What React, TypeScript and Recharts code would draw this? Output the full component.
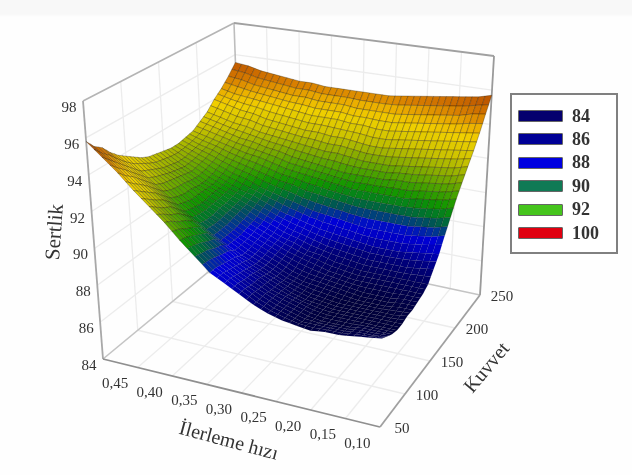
import { ScatterChart, Scatter, XAxis, YAxis } from "recharts";

const feedTicks = [0.45, 0.4, 0.35, 0.3, 0.25, 0.2, 0.15, 0.1, 0.05];
const feedLabels = ["0,45", "0,40", "0,35", "0,30", "0,25", "0,20", "0,15", "0,10"];
const forceTicks = [50, 100, 150, 200, 250];
const hardnessTicks = [84, 86, 88, 90, 92, 94, 96, 98];

const feedValues = [
  0.45, 0.43, 0.41, 0.39, 0.37, 0.35, 0.33, 0.31, 0.29, 0.27, 0.25, 0.23, 0.21, 0.19, 0.17, 0.15, 0.13, 0.11, 0.09,
  0.07, 0.05,
];
const forceValues = [50, 60, 70, 80, 90, 100, 110, 120, 130, 140, 150, 160, 170, 180, 190, 200, 210, 220, 230, 240, 250];

// hardness, one row per force value, one column per feed value
const hardness = [
  [95.8, 95.1, 94.4, 93.6, 92.9, 92.2, 91.4, 90.7, 90.0, 89.6, 89.2, 88.8, 88.5, 88.3, 88.2, 88.1, 88.2, 88.2, 88.3, 88.4, 88.5],
  [95.3, 94.7, 94.0, 93.3, 92.6, 92.0, 91.3, 90.6, 90.0, 89.6, 89.2, 88.8, 88.5, 88.3, 88.1, 88.1, 88.1, 88.1, 88.2, 88.2, 88.3],
  [95.0, 94.3, 93.7, 93.0, 92.3, 91.7, 91.1, 90.5, 89.9, 89.5, 89.1, 88.8, 88.5, 88.3, 88.1, 88.0, 88.0, 88.0, 88.1, 88.1, 88.1],
  [94.5, 93.9, 93.3, 92.7, 92.1, 91.5, 90.9, 90.3, 89.8, 89.4, 89.1, 88.7, 88.5, 88.3, 88.1, 88.0, 88.0, 88.0, 88.0, 88.0, 88.0],
  [94.1, 93.5, 92.9, 92.3, 91.7, 91.2, 90.7, 90.2, 89.7, 89.3, 89.0, 88.7, 88.4, 88.2, 88.1, 88.0, 88.0, 88.0, 88.0, 88.0, 88.0],
  [93.8, 93.1, 92.5, 91.9, 91.3, 90.8, 90.3, 89.9, 89.5, 89.2, 88.9, 88.6, 88.4, 88.2, 88.1, 88.0, 88.0, 88.0, 88.0, 88.0, 88.1],
  [93.5, 92.9, 92.3, 91.7, 91.2, 90.7, 90.3, 89.9, 89.5, 89.2, 88.9, 88.6, 88.4, 88.3, 88.2, 88.1, 88.0, 88.0, 88.0, 88.1, 88.1],
  [93.2, 92.7, 92.2, 91.6, 91.1, 90.7, 90.3, 89.9, 89.6, 89.3, 89.0, 88.7, 88.5, 88.4, 88.3, 88.2, 88.1, 88.1, 88.1, 88.2, 88.2],
  [93.0, 92.5, 92.1, 91.6, 91.1, 90.8, 90.4, 90.0, 89.7, 89.4, 89.1, 88.9, 88.7, 88.5, 88.4, 88.3, 88.3, 88.3, 88.3, 88.3, 88.3],
  [92.9, 92.4, 92.0, 91.5, 91.2, 90.8, 90.5, 90.1, 89.8, 89.5, 89.3, 89.0, 88.9, 88.7, 88.6, 88.5, 88.5, 88.5, 88.5, 88.5, 88.5],
  [92.8, 92.3, 91.9, 91.5, 91.2, 90.9, 90.6, 90.3, 90.0, 89.7, 89.5, 89.3, 89.1, 89.0, 88.9, 88.8, 88.8, 88.8, 88.8, 88.9, 89.0],
  [92.7, 92.3, 92.0, 91.6, 91.3, 91.0, 90.8, 90.5, 90.2, 90.0, 89.8, 89.6, 89.5, 89.4, 89.3, 89.2, 89.2, 89.2, 89.3, 89.4, 89.5],
  [92.7, 92.4, 92.1, 91.8, 91.5, 91.3, 91.0, 90.8, 90.6, 90.4, 90.2, 90.1, 90.0, 89.9, 89.8, 89.8, 89.8, 89.8, 89.9, 90.0, 90.2],
  [92.8, 92.5, 92.3, 92.0, 91.8, 91.6, 91.4, 91.2, 91.1, 90.9, 90.8, 90.7, 90.6, 90.5, 90.5, 90.5, 90.5, 90.5, 90.6, 90.7, 90.9],
  [92.9, 92.7, 92.5, 92.3, 92.1, 92.0, 91.8, 91.6, 91.5, 91.4, 91.3, 91.2, 91.1, 91.1, 91.1, 91.1, 91.1, 91.2, 91.3, 91.4, 91.6],
  [93.2, 93.0, 92.8, 92.6, 92.5, 92.3, 92.2, 92.0, 91.9, 91.8, 91.7, 91.6, 91.6, 91.6, 91.6, 91.7, 91.7, 91.8, 91.9, 92.0, 92.2],
  [93.5, 93.3, 93.1, 93.0, 92.8, 92.7, 92.6, 92.5, 92.4, 92.3, 92.3, 92.2, 92.1, 92.1, 92.1, 92.2, 92.3, 92.4, 92.5, 92.6, 92.8],
  [94.0, 93.8, 93.6, 93.5, 93.3, 93.2, 93.1, 93.0, 93.0, 92.9, 92.9, 92.8, 92.7, 92.7, 92.8, 92.9, 93.0, 93.1, 93.2, 93.3, 93.4],
  [94.4, 94.2, 94.1, 94.0, 93.9, 93.8, 93.7, 93.6, 93.6, 93.6, 93.5, 93.5, 93.4, 93.4, 93.5, 93.6, 93.7, 93.8, 93.9, 94.0, 94.1],
  [94.9, 94.8, 94.6, 94.5, 94.4, 94.3, 94.3, 94.2, 94.2, 94.2, 94.1, 94.1, 94.1, 94.1, 94.2, 94.3, 94.4, 94.5, 94.6, 94.8, 94.9],
  [95.5, 95.4, 95.2, 95.1, 95.0, 94.9, 94.9, 94.8, 94.8, 94.8, 94.8, 94.8, 94.8, 94.9, 95.0, 95.1, 95.2, 95.3, 95.4, 95.5, 95.7],
];

const legendValues = ["84", "86", "88", "90", "92", "100"];
const legendColors = ["#05006e", "#000096", "#0000e0", "#0f7a55", "#45c41c", "#e00010"];

// where the box corners land on the page
const floorCorners = [[103, 359], [380, 427], [242, 244], [480, 295]];
const topCorners = [[83, 101], [386, 152], [234, 23], [494, 56]];

const project = (feed: number, force: number, h: number) => {
  const u = (0.45 - feed) / 0.4;
  const v = (force - 50) / 200;
  const t = (h - 84) / 14;
  const blend = (c: number[][], k: number) =>
    (1 - u) * (1 - v) * c[0][k] + u * (1 - v) * c[1][k] + (1 - u) * v * c[2][k] + u * v * c[3][k];
  return {
    x: blend(floorCorners, 0) * (1 - t) + blend(topCorners, 0) * t,
    y: blend(floorCorners, 1) * (1 - t) + blend(topCorners, 1) * t,
  };
};

const colorStops: [number, number[]][] = [
  [88.0, [0, 0, 60]],
  [89.0, [0, 0, 125]],
  [89.5, [0, 0, 190]],
  [89.9, [0, 0, 215]],
  [90.2, [0, 50, 150]],
  [90.5, [0, 85, 85]],
  [90.8, [0, 120, 40]],
  [91.2, [15, 150, 0]],
  [91.7, [70, 162, 0]],
  [92.3, [135, 172, 0]],
  [93.0, [205, 195, 0]],
  [93.8, [240, 208, 0]],
  [94.3, [235, 175, 0]],
  [94.8, [215, 125, 0]],
  [95.6, [185, 80, 0]],
];

const colorFor = (h: number) => {
  if (h <= colorStops[0][0]) return `rgb(${colorStops[0][1].join(",")})`;
  for (let i = 1; i < colorStops.length; i++) {
    const [h1, c1] = colorStops[i];
    if (h <= h1) {
      const [h0, c0] = colorStops[i - 1];
      const f = (h - h0) / (h1 - h0);
      return `rgb(${c0.map((c, k) => Math.round(c + (c1[k] - c) * f)).join(",")})`;
    }
  }
  return `rgb(${colorStops[colorStops.length - 1][1].join(",")})`;
};

type Pt = { x: number; y: number };

// mesh cells, back row first so the front ones paint over
const cells: { x: number; y: number; corners: Pt[]; heights: number[] }[] = [];
for (let r = forceValues.length - 2; r >= 0; r--) {
  for (let c = 0; c < feedValues.length - 1; c++) {
    const corners = [
      project(feedValues[c], forceValues[r], hardness[r][c]),
      project(feedValues[c + 1], forceValues[r], hardness[r][c + 1]),
      project(feedValues[c + 1], forceValues[r + 1], hardness[r + 1][c + 1]),
      project(feedValues[c], forceValues[r + 1], hardness[r + 1][c]),
    ];
    cells.push({
      x: corners.reduce((s, p) => s + p.x, 0) / 4,
      y: corners.reduce((s, p) => s + p.y, 0) / 4,
      corners,
      heights: [hardness[r][c], hardness[r][c + 1], hardness[r + 1][c + 1], hardness[r + 1][c]],
    });
  }
}

const feedMin = feedTicks[0];
const feedMax = feedTicks[feedTicks.length - 1];
const forceMin = forceTicks[0];
const forceMax = forceTicks[forceTicks.length - 1];
const hMin = hardnessTicks[0];
const hMax = hardnessTicks[hardnessTicks.length - 1];

const gridLines = [
  ...feedTicks.slice(1, -1).flatMap((f) => [
    [project(f, forceMin, hMin), project(f, forceMax, hMin)],
    [project(f, forceMax, hMin), project(f, forceMax, hMax)],
  ]),
  ...forceTicks.slice(1, -1).flatMap((k) => [
    [project(feedMin, k, hMin), project(feedMax, k, hMin)],
    [project(feedMin, k, hMin), project(feedMin, k, hMax)],
  ]),
  ...hardnessTicks.slice(1, -1).flatMap((h) => [
    [project(feedMin, forceMin, h), project(feedMin, forceMax, h)],
    [project(feedMin, forceMax, h), project(feedMax, forceMax, h)],
  ]),
];

const boxLines = [
  { pts: [project(feedMin, forceMin, hMin), project(feedMin, forceMax, hMin)], color: "#c4c4c4", w: 1.6 },
  { pts: [project(feedMin, forceMax, hMin), project(feedMax, forceMax, hMin)], color: "#c4c4c4", w: 1.6 },
  { pts: [project(feedMin, forceMax, hMin), project(feedMin, forceMax, hMax)], color: "#bdbdbd", w: 1.6 },
  { pts: [project(feedMin, forceMin, hMax), project(feedMin, forceMax, hMax)], color: "#b4b4b4", w: 1.6 },
  { pts: [project(feedMin, forceMax, hMax), project(feedMax, forceMax, hMax)], color: "#a0a0a0", w: 1.8 },
  { pts: [project(feedMin, forceMin, hMin), project(feedMin, forceMin, hMax)], color: "#a8a8a8", w: 1.8 },
  { pts: [project(feedMax, forceMax, hMin), project(feedMax, forceMax, hMax)], color: "#9a9a9a", w: 1.8 },
  { pts: [project(feedMin, forceMin, hMin), project(feedMax, forceMin, hMin)], color: "#8f8f8f", w: 1.8 },
  { pts: [project(feedMax, forceMin, hMin), project(feedMax, forceMax, hMin)], color: "#a0a0a0", w: 1.8 },
];

const labels = [
  ...feedLabels.map((text, i) => {
    const p = project(feedTicks[i], forceMin, hMin);
    return { x: p.x + 12, y: p.y + 24, text, size: 15, angle: 0 };
  }),
  ...forceTicks.map((k) => {
    const p = project(feedMax, k, hMin);
    return { x: p.x + 22, y: p.y + 1, text: String(k), size: 15, angle: 0 };
  }),
  ...hardnessTicks.map((h) => {
    const p = project(feedMin, forceMin, h);
    return { x: p.x - 14, y: p.y + 6, text: String(h), size: 15, angle: 0 };
  }),
  { x: 229, y: 440, text: "İlerleme hızı", size: 20, angle: 15 },
  { x: 54, y: 232, text: "Sertlik", size: 21, angle: -86 },
  { x: 486, y: 367, text: "Kuvvet", size: 20, angle: -50 },
];

const CellShape = (props: any) => {
  const { cx, cy, payload } = props;
  const { corners, heights } = payload;
  // plot scale is 1:1 with the page, so corner offsets can be used as they are
  const at = (s: number, t: number) => {
    const w = [(1 - s) * (1 - t), s * (1 - t), s * t, (1 - s) * t];
    return {
      x: cx - payload.x + corners.reduce((a: number, p: Pt, i: number) => a + p.x * w[i], 0),
      y: cy - payload.y + corners.reduce((a: number, p: Pt, i: number) => a + p.y * w[i], 0),
      h: heights.reduce((a: number, h: number, i: number) => a + h * w[i], 0),
    };
  };
  const parts = [
    [0, 0.5],
    [0.5, 0.5],
    [0, 0],
    [0.5, 0],
  ];
  return (
    <g>
      {parts.map(([s, t]) => {
        const pts = [at(s, t), at(s + 0.5, t), at(s + 0.5, t + 0.5), at(s, t + 0.5)];
        const mid = at(s + 0.25, t + 0.25).h;
        const alpha = mid < 90 ? 0.08 : mid < 91 ? 0.28 : 0.5;
        return (
          <polygon
            key={`${s}${t}`}
            points={pts.map((p) => `${p.x},${p.y}`).join(" ")}
            fill={colorFor(mid)}
            stroke={`rgba(30,20,0,${alpha})`}
            strokeWidth={0.6}
          />
        );
      })}
    </g>
  );
};

const LabelShape = (props: any) => {
  const { cx, cy, payload } = props;
  return (
    <text
      x={cx}
      y={cy}
      textAnchor="middle"
      dominantBaseline="central"
      fontFamily="'Liberation Serif', serif"
      fontSize={payload.size}
      fill="#333"
      transform={payload.angle ? `rotate(${payload.angle} ${cx} ${cy})` : undefined}
    >
      {payload.text}
    </text>
  );
};

const NoDot = () => <g />;

function LegendBox() {
  return (
    <div
      style={{
        position: "absolute",
        left: 510,
        top: 93,
        width: 104,
        height: 157,
        border: "2px solid #808080",
        background: "#fff",
      }}
    >
      {legendValues.map((v, i) => (
        <div key={v} style={{ position: "absolute", left: 6, top: 14.5 + i * 23.4, display: "flex", alignItems: "center" }}>
          <span
            style={{
              display: "inline-block",
              width: 43,
              height: 10,
              background: legendColors[i],
              border: "1px solid #666",
              borderRadius: 1,
            }}
          />
          <span
            style={{
              marginLeft: 9,
              fontFamily: "'Liberation Serif', serif",
              fontWeight: 700,
              fontSize: 18,
              lineHeight: "13px",
              color: "#333",
            }}
          >
            {v}
          </span>
        </div>
      ))}
    </div>
  );
}

export default function App() {
  return (
    <div
      style={{
        position: "absolute",
        left: 0,
        top: 0,
        width: 632,
        height: 475,
        background: "linear-gradient(#f8f8f8 14px, #fefefe 17px)",
        filter: "blur(0.7px)",
        overflow: "hidden",
      }}
    >
      <ScatterChart width={632} height={475} margin={{ top: 0, right: 0, bottom: 0, left: 0 }}>
        <XAxis type="number" dataKey="x" domain={[0, 632]} hide />
        <YAxis type="number" dataKey="y" domain={[0, 475]} reversed hide />
        {gridLines.map((pts, i) => (
          <Scatter
            key={`g${i}`}
            data={pts}
            line={{ stroke: "#ececec", strokeWidth: 1.3 }}
            shape={NoDot}
            isAnimationActive={false}
          />
        ))}
        {boxLines.map((b, i) => (
          <Scatter
            key={`b${i}`}
            data={b.pts}
            line={{ stroke: b.color, strokeWidth: b.w }}
            shape={NoDot}
            isAnimationActive={false}
          />
        ))}
        <Scatter data={cells} shape={CellShape} isAnimationActive={false} />
        <Scatter data={labels} shape={LabelShape} isAnimationActive={false} />
      </ScatterChart>
      <LegendBox />
    </div>
  );
}
